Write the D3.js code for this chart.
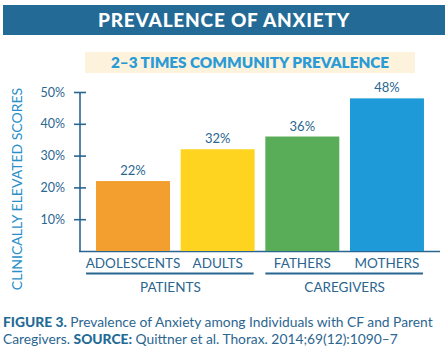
<!DOCTYPE html>
<html>
<head>
<meta charset="utf-8">
<script src="https://cdn.jsdelivr.net/npm/d3@7"></script>
<style>
  html, body { margin: 0; padding: 0; background: #fff; }
  svg { display: block; }
  text { font-family: Lato, "Open Sans", sans-serif; }
</style>
</head>
<body>
<svg id="chart" width="447" height="355"></svg>
<script>
const title = "PREVALENCE OF ANXIETY";
const subtitle = "2–3 TIMES COMMUNITY PREVALENCE";
const yAxisLabel = "CLINICALLY ELEVATED SCORES";
const categories = ["ADOLESCENTS", "ADULTS", "FATHERS", "MOTHERS"];
const values = [22, 32, 36, 48];
const barColors = ["#f29f30", "#fed420", "#5aad58", "#1e9ad8"];
const groups = ["PATIENTS", "CAREGIVERS"];
const groupMembers = [["ADOLESCENTS", "ADULTS"], ["FATHERS", "MOTHERS"]];
const yTicks = [10, 20, 30, 40, 50];

const svg = d3.select("#chart");
const textColor = "#2b6690";
const axisColor = "#2b6690";

// header
svg.append("rect").attr("x", 3).attr("y", 5).attr("width", 442).attr("height", 30).attr("fill", "#236b96");
svg.append("text").attr("x", 224).attr("y", 27).attr("text-anchor", "middle")
  .attr("fill", "#fff").attr("font-size", 19).attr("font-weight", 900).attr("letter-spacing", 0.8)
  .text(title);

// subtitle
svg.append("rect").attr("x", 85).attr("y", 52).attr("width", 330).attr("height", 21).attr("fill", "#fdf2dc");
svg.append("text").attr("x", 250).attr("y", 68).attr("text-anchor", "middle")
  .attr("fill", "#2a9bd6").attr("font-size", 15.3).attr("font-weight", 800)
  .text(subtitle);

const x = d3.scaleBand().domain(categories).range([90.7, 429.3]).paddingInner(0.126).paddingOuter(0.063);
const y = d3.scaleLinear().domain([0, 50]).range([251, 92]);

// y axis
const yAxis = svg.append("g").attr("transform", "translate(80,0)")
  .call(d3.axisLeft(y).tickValues(yTicks).tickSize(6).tickFormat(d => d + "%"));
yAxis.select(".domain").remove();
yAxis.selectAll(".tick line").attr("stroke", axisColor).attr("stroke-width", 1.6).attr("x2", 6).attr("x1", -6);
yAxis.selectAll(".tick text").attr("x", -15).attr("fill", textColor).attr("font-size", 12.5)
  .attr("font-family", "Lato, sans-serif");
svg.append("line").attr("x1", 80).attr("x2", 80).attr("y1", y(50)).attr("y2", y(0) + 1)
  .attr("stroke", axisColor).attr("stroke-width", 1.6);

// baseline
svg.append("line").attr("x1", 79).attr("x2", 440).attr("y1", y(0) + 0.5).attr("y2", y(0) + 0.5)
  .attr("stroke", axisColor).attr("stroke-width", 1.6);

// bars
svg.selectAll("rect.bar").data(categories).enter().append("rect").attr("class", "bar")
  .attr("x", d => x(d)).attr("width", x.bandwidth())
  .attr("y", (d, i) => y(values[i])).attr("height", (d, i) => y(0) - y(values[i]))
  .attr("fill", (d, i) => barColors[i]);

// value labels
svg.selectAll("text.val").data(categories).enter().append("text").attr("class", "val")
  .attr("x", d => x(d) + x.bandwidth() / 2).attr("y", (d, i) => y(values[i]) - 6)
  .attr("text-anchor", "middle").attr("fill", textColor).attr("font-size", 13)
  .text((d, i) => values[i] + "%");

// category labels
svg.selectAll("text.cat").data(categories).enter().append("text").attr("class", "cat")
  .attr("x", d => x(d) + x.bandwidth() / 2).attr("y", 268)
  .attr("text-anchor", "middle").attr("fill", textColor).attr("font-size", 13.5)
  .text(d => d);

// group lines and labels
groups.forEach((g, gi) => {
  const mem = groupMembers[gi];
  const x0 = x(mem[0]) - (gi === 0 ? 10 : 0);
  const x1 = x(mem[mem.length - 1]) + x.bandwidth() - 1;
  svg.append("line").attr("x1", x0).attr("x2", x1).attr("y1", 273.5).attr("y2", 273.5)
    .attr("stroke", axisColor).attr("stroke-width", 2);
  svg.append("text").attr("x", (x(mem[0]) + x(mem[mem.length - 1]) + x.bandwidth()) / 2 - (gi === 0 ? 5 : 0))
    .attr("y", 292).attr("text-anchor", "middle").attr("fill", textColor).attr("font-size", 13.5)
    .text(g);
});

// y axis title
svg.append("text").attr("transform", "translate(22,189) rotate(-90)")
  .attr("text-anchor", "middle").attr("fill", "#2a8fc8").attr("font-size", 14)
  .text(yAxisLabel);

// caption
const cap1 = svg.append("text").attr("x", 3).attr("y", 327).attr("font-size", 13.8).attr("fill", "#2b6690");
cap1.append("tspan").attr("font-weight", 900).attr("fill", "#236b96").text("FIGURE 3.");
cap1.append("tspan").text(" Prevalence of Anxiety among Individuals with CF and Parent");
const cap2 = svg.append("text").attr("x", 3).attr("y", 344).attr("font-size", 13.8).attr("fill", "#2b6690");
cap2.append("tspan").text("Caregivers. ");
cap2.append("tspan").attr("font-weight", 900).attr("fill", "#236b96").text("SOURCE:");
cap2.append("tspan").text(" Quittner et al. Thorax. 2014;69(12):1090–7");
</script>
</body>
</html>
